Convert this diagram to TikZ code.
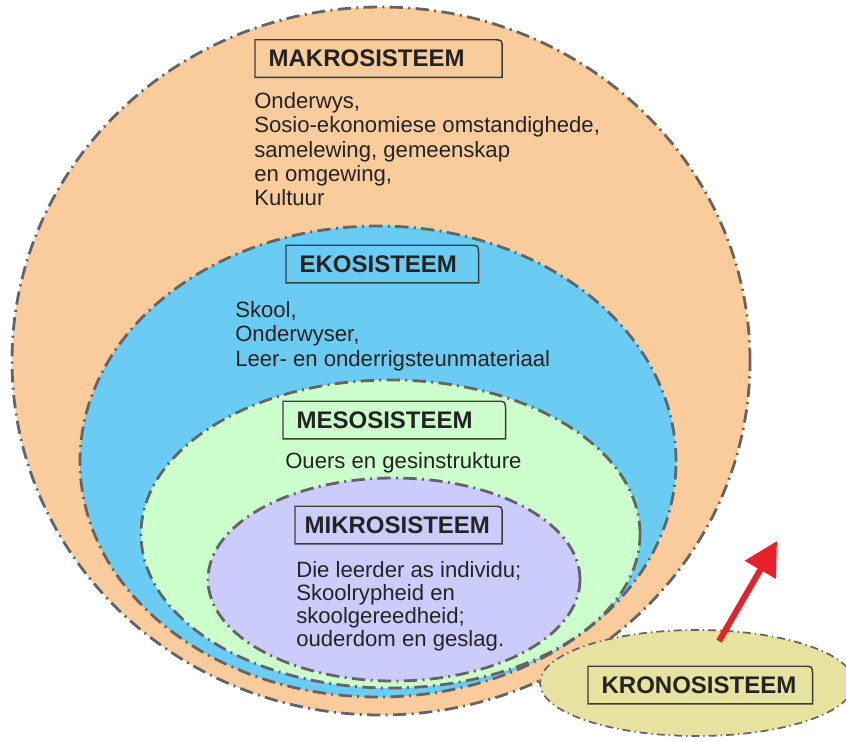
\documentclass[tikz,border=0pt]{standalone}
\usepackage{fontspec}
\setmainfont{Liberation Sans}
\usepackage{tikz}
\usetikzlibrary{arrows.meta,positioning,calc,shapes.geometric}
\definecolor{makrofill}{RGB}{250,204,156}
\definecolor{ekofill}{RGB}{106,204,242}
\definecolor{mesofill}{RGB}{204,255,204}
\definecolor{mikrofill}{RGB}{204,204,252}
\definecolor{kronofill}{RGB}{232,226,160}
\definecolor{rimgray}{RGB}{100,100,100}
\definecolor{tagframe}{RGB}{60,60,60}
\definecolor{inktext}{RGB}{35,35,35}
\definecolor{arrowred}{RGB}{232,32,42}

\begin{document}
\begin{tikzpicture}[x=0.75pt, y=-0.75pt,
  layer/.style={ellipse, draw=rimgray, line width=2.1pt, inner sep=0pt, dash pattern=on 10pt off 4pt on 1.5pt off 4pt},
  tagbox/.style={anchor=west, inner xsep=10pt, inner ysep=0pt, minimum height=27.75pt, align=left, font=\fontsize{18}{20}\selectfont\bfseries, text=inktext},
  tagline/.style={draw=tagframe, line width=1.1pt},
  body/.style={anchor=north west, inner sep=0pt, align=left, font=\fontsize{16.6}{18.3}\selectfont, text=inktext},
  timearrow/.style={draw=arrowred, line width=4.5pt, -{Triangle[length=25pt,width=26pt]}}
]
\useasboundingbox (0,0) rectangle (846,740);

% nested systems
\node[layer, fill=makrofill, minimum width=553.5pt, minimum height=531pt] (makro) at (381,361) {};
\node[layer, fill=ekofill, minimum width=447pt, minimum height=353.25pt] (eko) at (378,461.5) {};
\node[layer, fill=mesofill, minimum width=374.25pt, minimum height=231pt] (meso) at (390.5,534) {};
\node[layer, fill=mikrofill, minimum width=279pt, minimum height=152.25pt] (mikro) at (394,579.5) {};

% headings
\node[tagbox, text width=165pt] (makrotag) at (255,58.5) {MAKROSISTEEM};
\node[tagbox, text width=124pt] (ekotag) at (286,264) {EKOSISTEEM};
\node[tagbox, text width=146.5pt] (mesotag) at (283,420) {MESOSISTEEM};
\node[tagbox, text width=141pt, inner xsep=7pt] (mikrotag) at (295,525) {MIKROSISTEEM};

% contents
\node[body] (makrotext) at (254,92) {Onderwys,\\Sosio-ekonomiese omstandighede,\\samelewing, gemeenskap\\en omgewing,\\Kultuur};
\node[body] (ekotext) at (235,301) {Skool,\\Onderwyser,\\Leer- en onderrigsteunmateriaal};
\node[body, anchor=base west] (mesotext) at (285,468) {Ouers en gesinstrukture};
\node[body, font=\fontsize{16.6}{17.3}\selectfont] (mikrotext) at (296,561) {Die leerder as individu;\\Skoolrypheid en\\skoolgereedheid;\\ouderdom en geslag.};

% time
\node[layer, fill=kronofill, line width=1.3pt, dash pattern=on 6pt off 3pt on 1pt off 3pt, minimum width=235.5pt, minimum height=79.5pt] (krono) at (697,683) {};
\node[tagbox, text width=148pt] (kronotag) at (588,685) {KRONOSISTEEM};

\foreach \t in {makrotag,ekotag,mesotag,mikrotag,kronotag}
  \draw[tagline] (\t.south west) -- (\t.north west) -- ([xshift=-7pt]\t.north east)
    .. controls (\t.north east) .. ([yshift=-7pt]\t.north east) -- (\t.south east) -- cycle;

\coordinate (ahead) at (777,541);
\draw[timearrow] ($(krono.north)+(22,12)$) -- (ahead);

\end{tikzpicture}
\end{document}
